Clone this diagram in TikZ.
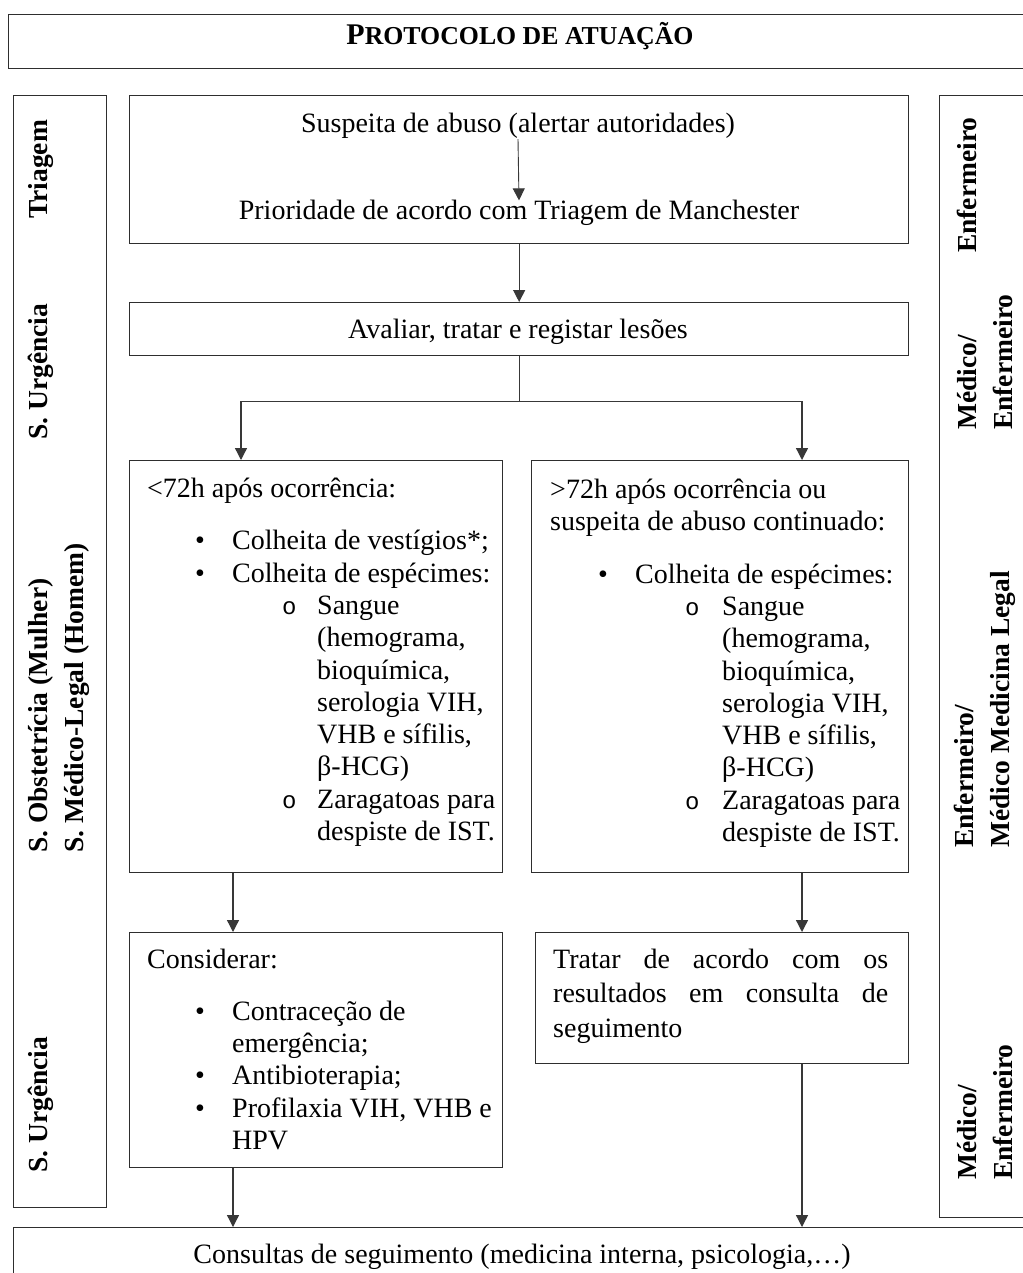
\documentclass[tikz,border=0pt]{standalone}
\usepackage{fontspec}
\setmainfont{Liberation Serif}
\newfontfamily\monof{Liberation Mono}
\usetikzlibrary{arrows.meta,calc}
\newcommand\bitem[4]{\par\leftskip=#2\relax\noindent\llap{\hbox to \dimexpr#2-#1\relax{#3\hfil}}#4\par}
\newcommand\subm{{\monof\fontsize{24}{24}\selectfont o}}
\newcommand\bul{•}
\begin{document}
\begin{tikzpicture}[x=1pt,y=-1pt,
 box/.style={draw=black!82, line width=1.3pt, rectangle, inner sep=0pt, anchor=north west},
 arr/.style={draw=black!78, line width=1.3pt, -{Triangle[width=12pt,length=12pt]}},
 body/.style={font=\fontsize{28}{32.3}\selectfont, inner sep=0pt},
 side/.style={font=\fontsize{27.5}{36}\selectfont\bfseries, rotate=90, anchor=west, inner sep=0pt, align=left},
]
\useasboundingbox (0,0) rectangle (1022,1273);
\fill[white] (0,0) rectangle (1022,1273);

% boxes
\node[box, minimum width=1040, minimum height=54] (title) at (8,14) {};
\node[box, minimum width=93, minimum height=1112] (colL) at (13,95) {};
\node[box, minimum width=100, minimum height=1122] (colR) at (939,95) {};
\node[box, minimum width=779, minimum height=148] (b1) at (129,95) {};
\node[box, minimum width=779, minimum height=53] (b2) at (129,302) {};
\node[box, minimum width=373, minimum height=412] (b3l) at (129,460) {};
\node[box, minimum width=377, minimum height=412] (b3r) at (531,460) {};
\node[box, minimum width=373, minimum height=235] (b4l) at (129,932) {};
\node[box, minimum width=373, minimum height=131] (b4r) at (535,932) {};
\node[box, minimum width=1040, minimum height=80] (bot) at (13,1227) {};

% title
\node[inner sep=0pt, anchor=base] (ttl) at (520,45) {\bfseries\fontsize{30}{30}\selectfont P\fontsize{25.8}{30}\selectfont ROTOCOLO DE ATUAÇÃO};

% texts
\node[body, anchor=base] (t1) at (518,133) {Suspeita de abuso (alertar autoridades)};
\node[body, anchor=base] (t2) at (519,220) {Prioridade de acordo com Triagem de Manchester};
\node[body, anchor=base] (t3) at (518,338) {Avaliar, tratar e registar lesões};

\node[body, anchor=base west] (t4) at (147,497) {\parbox[t]{400pt}{%
<72h após ocorrência:\par\vspace{20.5pt}
\bitem{48pt}{85pt}{\bul}{Colheita de vestígios*;}
\bitem{48pt}{85pt}{\bul}{Colheita de espécimes:}
\bitem{135pt}{170pt}{\subm}{Sangue\newline (hemograma,\newline bioquímica,\newline serologia VIH,\newline VHB e sífilis,\newline β-HCG)}
\bitem{135pt}{170pt}{\subm}{Zaragatoas para\newline despiste de IST.}}};

\node[body, anchor=base west] (t5) at (550,498) {\parbox[t]{400pt}{%
>72h após ocorrência ou\newline suspeita de abuso continuado:\par\vspace{20.5pt}
\bitem{48pt}{85pt}{\bul}{Colheita de espécimes:}
\bitem{135pt}{172pt}{\subm}{Sangue\newline (hemograma,\newline bioquímica,\newline serologia VIH,\newline VHB e sífilis,\newline β-HCG)}
\bitem{135pt}{172pt}{\subm}{Zaragatoas para\newline despiste de IST.}}};

\node[body, anchor=base west] (t6) at (147,968) {\parbox[t]{400pt}{%
Considerar:\par\vspace{20pt}
\bitem{48pt}{85pt}{\bul}{Contraceção de\newline emergência;}
\bitem{48pt}{85pt}{\bul}{Antibioterapia;}
\bitem{48pt}{85pt}{\bul}{Profilaxia VIH, VHB e\newline HPV}}};

\node[body, font=\fontsize{28}{34.5}\selectfont, anchor=base west] (t7) at (553,968) {\parbox[t]{335pt}{%
\makebox[335pt][s]{Tratar de acordo com os}\newline
\makebox[335pt][s]{resultados em consulta de}\newline
seguimento}};

\node[body, anchor=base] (t8) at (522,1263) {Consultas de seguimento (medicina interna, psicologia,…)};

% side labels
\node[side] (sl1) at (41,219) {Triagem};
\node[side] (sl2) at (41,440) {S. Urgência};
\node[side] (sl3) at (59,853) {S. Obstetrícia (Mulher)\\S. Médico-Legal (Homem)};
\node[side] (sl4) at (41,1173) {S. Urgência};
\node[side] (sr1) at (967,253) {Enfermeiro};
\node[side] (sr2) at (985,430) {Médico/\\Enfermeiro};
\node[side] (sr3) at (985,848) {Enfermeiro/\\Médico Medicina Legal};
\node[side] (sr4) at (985,1180) {Médico/\\Enfermeiro};

% connectors
\draw[arr, line width=0.9pt] (t1.south) -- (t2.north);
\draw[arr] (b1.south) -- (b2.north);
\draw[draw=black!78, line width=1.3pt] (b2.south) -- ++(0,45) coordinate (split);
\draw[arr] (split) -| ($(b3l.north west)+(112,0)$);
\draw[arr] (split) -| ($(b3r.north west)+(271,0)$);
\draw[arr] ($(b3l.south west)+(104,0)$) -- ($(b4l.north west)+(104,0)$);
\draw[arr] ($(b3r.south west)+(271,0)$) -- ($(b4r.north west)+(267,0)$);
\draw[arr] ($(b4l.south west)+(104,0)$) coordinate (pl) -- (pl |- bot.north);
\draw[arr] ($(b4r.south west)+(267,0)$) coordinate (pr) -- (pr |- bot.north);
\end{tikzpicture}
\end{document}
